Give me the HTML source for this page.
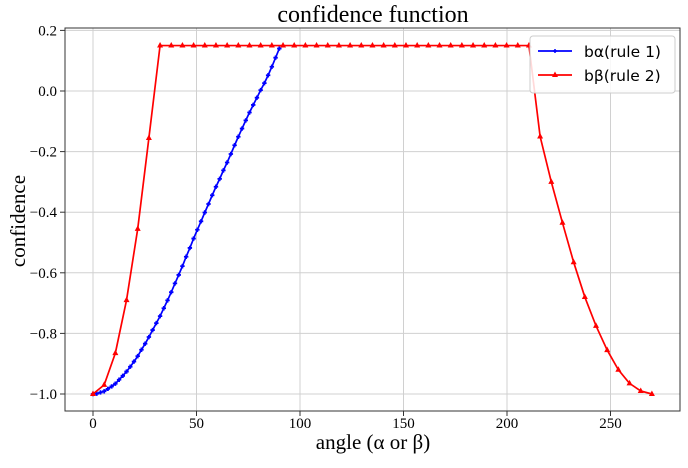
<!DOCTYPE html>
<html><head><meta charset="utf-8"><style>
body{margin:0;background:#fff}
svg text{font-family:"Liberation Serif",serif}
.sans{font-family:"DejaVu Sans","Liberation Sans",sans-serif}
</style></head><body>
<svg id="c" width="688" height="463" xmlns="http://www.w3.org/2000/svg"></svg>
<script>
const xTicks=[0,50,100,150,200,250];
const yTicks=[0.2,0.0,-0.2,-0.4,-0.6,-0.8,-1.0];
const yTickLabels=["0.2","0.0","−0.2","−0.4","−0.6","−0.8","−1.0"];
const blueStep=1.8;
const blueVals=[-1.000,-0.999,-0.995,-0.991,-0.983,-0.975,-0.966,-0.953,-0.940,-0.926,-0.910,-0.893,-0.875,-0.854,-0.834,-0.812,-0.789,-0.766,-0.743,-0.717,-0.691,-0.664,-0.635,-0.607,-0.578,-0.547,-0.518,-0.487,-0.458,-0.430,-0.401,-0.373,-0.344,-0.316,-0.290,-0.262,-0.236,-0.208,-0.179,-0.151,-0.124,-0.097,-0.071,-0.046,-0.022,0.003,0.026,0.052,0.080,0.110,0.140];
const redStep=5.4;
const redVals=[-1.0,-0.97,-0.865,-0.69,-0.455,-0.155,0.15,0.15,0.15,0.15,0.15,0.15,0.15,0.15,0.15,0.15,0.15,0.15,0.15,0.15,0.15,0.15,0.15,0.15,0.15,0.15,0.15,0.15,0.15,0.15,0.15,0.15,0.15,0.15,0.15,0.15,0.15,0.15,0.15,0.15,-0.15,-0.30,-0.435,-0.565,-0.68,-0.775,-0.855,-0.92,-0.965,-0.99,-1.0];
const NS="http://www.w3.org/2000/svg";
const svg=document.getElementById('c');
const L=65,R=680,T=28,B=411;
const X=v=>93+v*2.07;
const Y=v=>91-v*303;
function mk(t,a,p){const e=document.createElementNS(NS,t);for(const k in a)e.setAttribute(k,a[k]);(p||svg).appendChild(e);return e;}
let g=mk('g',{});


xTicks.forEach(t=>{mk('line',{x1:X(t),x2:X(t),y1:T,y2:B,stroke:'#d0d0d0','stroke-width':1},g);
 mk('line',{x1:X(t),x2:X(t),y1:B,y2:B+5,stroke:'#333'},g);
 const tx=mk('text',{x:X(t),y:428,'text-anchor':'middle','font-size':15},g);tx.textContent=t;
 
 });
yTicks.forEach((t,i)=>{mk('line',{x1:L,x2:R,y1:Y(t),y2:Y(t),stroke:'#d0d0d0','stroke-width':1},g);
 mk('line',{x1:L-5,x2:L,y1:Y(t),y2:Y(t),stroke:'#333'},g);
 const tx=mk('text',{x:L-8,y:Y(t)+5,'text-anchor':'end','font-size':15},g);tx.textContent=yTickLabels[i];
 
 });
const fr=mk('rect',{x:L,y:T,width:R-L,height:B-T,fill:'none',stroke:'#333','stroke-width':1});


function series(vals,step,color,name,tri){
 const sg=mk('g',{});
 
 
 mk('polyline',{points:vals.map((v,i)=>X(i*step)+','+Y(v)).join(' '),fill:'none',stroke:color,'stroke-width':1.7},sg);
 vals.forEach((v,i)=>{const x=X(i*step),y=Y(v);
  if(tri) mk('polygon',{points:`${x},${y-3.5} ${x-3},${y+2} ${x+3},${y+2}`,fill:color},sg);
  else mk('path',{d:`M${x-2.2},${y}H${x+2.2}M${x},${y-2.2}V${y+2.2}`,stroke:color,'stroke-width':1.8},sg);});
}
series(blueVals,blueStep,'#0000ff','series-b-alpha',false);
series(redVals,redStep,'#ff0000','series-b-beta',true);
const lg=mk('g',{});


mk('rect',{x:530,y:36,width:145,height:57,rx:3,fill:'#fff','fill-opacity':0.85,stroke:'#ccc'},lg);
mk('line',{x1:538,x2:572,y1:51,y2:51,stroke:'#0000ff','stroke-width':1.7},lg);
mk('path',{d:'M553,51H557M555,49V53',stroke:'#0000ff','stroke-width':1.5},lg);
mk('line',{x1:538,x2:572,y1:75,y2:75,stroke:'#ff0000','stroke-width':1.7},lg);
mk('polygon',{points:'555,71.5 552,77 558,77',fill:'#ff0000'},lg);
let t1=mk('text',{x:584,y:57,'font-size':15.5,class:'sans'},lg);t1.textContent='bα(rule 1)';
let t2=mk('text',{x:584,y:81,'font-size':15.5,class:'sans'},lg);t2.textContent='bβ(rule 2)';
let tt=mk('text',{x:373,y:22,'text-anchor':'middle','font-size':24});tt.textContent='confidence function';


let xl=mk('text',{x:373,y:449,'text-anchor':'middle','font-size':21});xl.textContent='angle (α or β)';


let yl=mk('text',{x:25,y:221,'text-anchor':'middle','font-size':21,transform:'rotate(-90 25 221)'});yl.textContent='confidence';


</script>
</body></html>
